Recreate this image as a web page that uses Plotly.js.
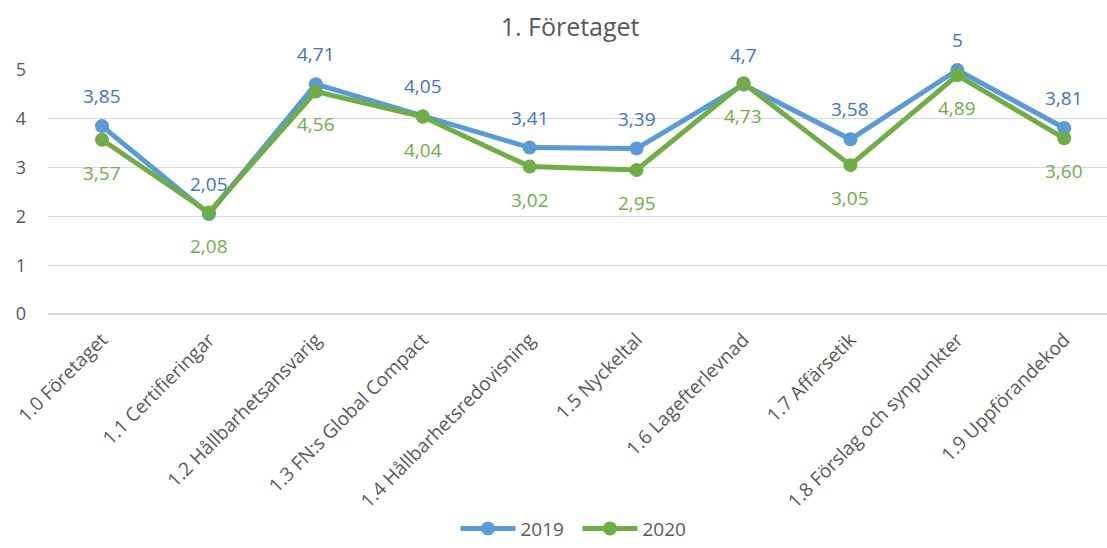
<!DOCTYPE html>
<html>
<head>
<meta charset="utf-8">
<script src="https://cdn.plot.ly/plotly-3.0.1.min.js"></script>
<style>html,body{margin:0;padding:0;background:#fff;}#chart{width:1107px;height:548px;}</style>
</head>
<body>
<div id="chart"></div>
<script>
var categories = ["1.0 Företaget","1.1 Certifieringar","1.2 Hållbarhetsansvarig","1.3 FN:s Global Compact","1.4 Hållbarhetsredovisning","1.5 Nyckeltal","1.6 Lagefterlevnad","1.7 Affärsetik","1.8 Förslag och synpunkter","1.9 Uppförandekod"];
var values2019 = [3.85, 2.05, 4.71, 4.05, 3.41, 3.39, 4.7, 3.58, 5, 3.81];
var labels2019 = ["3,85","2,05","4,71","4,05","3,41","3,39","4,7","3,58","5","3,81"];
var values2020 = [3.57, 2.08, 4.56, 4.04, 3.02, 2.95, 4.73, 3.05, 4.89, 3.60];
var labels2020 = ["3,57","2,08","4,56","4,04","3,02","2,95","4,73","3,05","4,89","3,60"];
var yTicks = [0,1,2,3,4,5];

var FONT = "'Open Sans', 'Noto Sans', sans-serif";
var BLUE = "#5B9BD5", BLUE_LBL = "#4472C4", GREEN = "#70AD47";
var xIdx = categories.map(function(_, i){ return i; });

var traces = [
  {x: xIdx, y: values2019, name: "2019", type: "scatter", mode: "lines+markers",
   line: {color: BLUE, width: 5}, marker: {color: BLUE, size: 14}, cliponaxis: false},
  {x: xIdx, y: values2020, name: "2020", type: "scatter", mode: "lines+markers",
   line: {color: GREEN, width: 5}, marker: {color: GREEN, size: 14}, cliponaxis: false}
];

var annotations = [];
xIdx.forEach(function(i){
  annotations.push({x: i, y: values2019[i], text: labels2019[i], showarrow: false, yshift: 30,
    font: {family: FONT, size: 19, color: BLUE_LBL}});
  annotations.push({x: i, y: values2020[i], text: labels2020[i], showarrow: false, yshift: -33,
    font: {family: FONT, size: 19, color: GREEN}});
});

var layout = {
  width: 1107, height: 548,
  margin: {l: 48, r: 0, t: 70, b: 229},
  paper_bgcolor: "#ffffff", plot_bgcolor: "#ffffff",
  font: {family: FONT, color: "#595959"},
  title: {text: "1. Företaget", x: 0.515, xanchor: "center", y: 0.95, yanchor: "middle",
          font: {family: FONT, size: 25, color: "#595959"}},
  xaxis: {range: [-0.505, 9.40], tickmode: "array", tickvals: xIdx, ticktext: categories,
          tickangle: -45, showgrid: false, zeroline: false, showline: false, ticks: "",
          ticklabelstandoff: 10,
          tickfont: {family: FONT, size: 19, color: "#595959"}, fixedrange: true},
  yaxis: {range: [0, 5], tickmode: "array", tickvals: yTicks, ticktext: yTicks.map(String),
          showgrid: true, gridcolor: "#D9D9D9", gridwidth: 1.3,
          zeroline: true, zerolinecolor: "#D9D9D9", zerolinewidth: 1.3, showline: false,
          ticks: "", ticklabelstandoff: 21,
          tickfont: {family: FONT, size: 18, color: "#595959"}, fixedrange: true},
  showlegend: true,
  legend: {orientation: "h", x: 0.5, xanchor: "center", y: -0.88, yanchor: "middle",
           itemwidth: 55, entrywidth: 52,
           font: {family: FONT, size: 19, color: "#595959"}},
  annotations: annotations
};

Plotly.newPlot("chart", traces, layout, {displayModeBar: false, staticPlot: true});
</script>
</body>
</html>
